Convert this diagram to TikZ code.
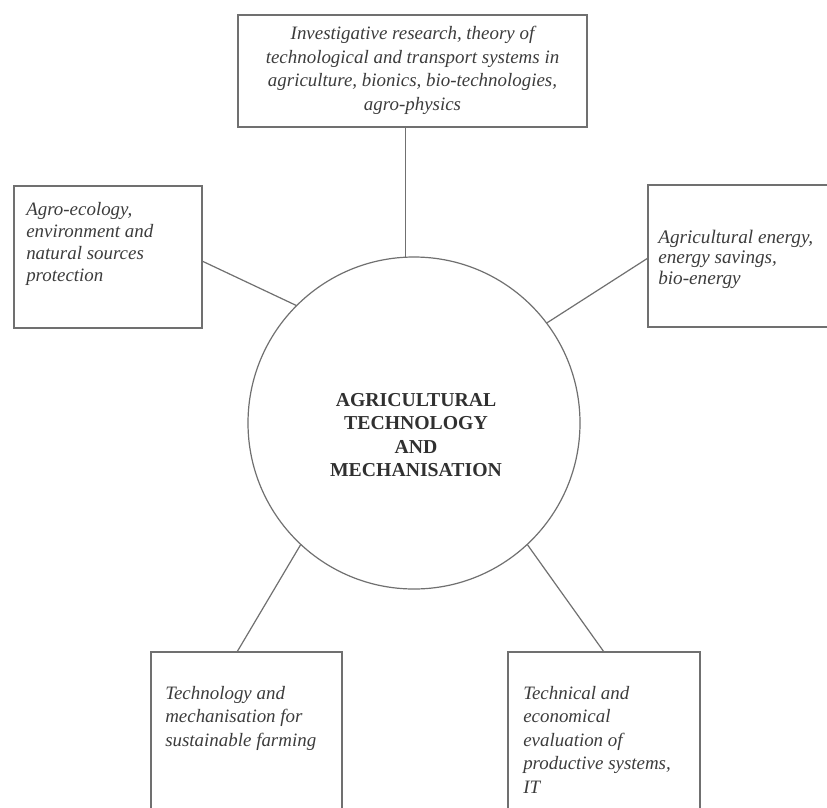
\documentclass[tikz,border=0pt]{standalone}
\usepackage{fontspec}
\setmainfont{Liberation Serif}
\usetikzlibrary{calc}
\definecolor{linegray}{HTML}{707070}
\definecolor{txtgray}{HTML}{3C3C3C}
\begin{document}
\begin{tikzpicture}[x=0.75pt,y=-0.75pt,
  box/.style={draw=linegray, line width=0.9pt, inner sep=0pt, outer sep=0pt},
  txt/.style={text=txtgray, font=\fontsize{14.2}{17.6}\selectfont\itshape, inner sep=0pt, align=left},
  link/.style={draw=linegray, line width=0.9pt}]
\useasboundingbox (0,0) rectangle (827,807);
\clip (0,0) rectangle (827,807);
\fill[white] (0,0) rectangle (827,807);

% central circle
\node[circle, draw=linegray, line width=0.9pt, minimum size=249pt, inner sep=0pt, outer sep=0pt] (c) at (414,423) {};
\node[text=txtgray!80!black, font=\fontsize{14.8}{17.5}\selectfont\bfseries, align=center, inner sep=0pt] (ctext) at (416,435)
  {AGRICULTURAL\\TECHNOLOGY\\AND\\MECHANISATION};

% boxes
\node[box, minimum width=261.75pt, minimum height=84pt] (top) at (412.5,71) {};
\node[txt, align=center, anchor=north] (toptext) at (412.5,26)
  {Investigative research, theory of\\technological and transport systems in\\agriculture, bionics, bio-technologies,\\agro-physics};

\node[box, minimum width=141pt, minimum height=106.5pt] (lb) at (108,257) {};
\node[txt, anchor=north west, font=\fontsize{14.2}{16.5}\selectfont\itshape] (lbtext) at (26,202)
  {Agro-ecology,\\environment and\\natural sources\\protection};

\node[box, minimum width=144pt, minimum height=106.5pt] (rb) at (744,256) {};
\node[txt, anchor=north west, font=\fontsize{14.4}{15.2}\selectfont\itshape] (rbtext) at (658,230)
  {Agricultural energy,\\energy savings,\\bio-energy};

\node[box, minimum width=143.25pt, minimum height=135pt] (bl) at (246.5,742) {};
\node[txt, anchor=north west] (bltext) at (165,686)
  {Technology and\\mechanisation for\\sustainable farming};

\node[box, minimum width=144pt, minimum height=135pt] (br) at (604,742) {};
\node[txt, anchor=north west] (brtext) at (523,686)
  {Technical and\\economical\\evaluation of\\productive systems,\\IT};

% connectors
\draw[link] (c.93.5) -- (c.93.5 |- top.south);
\draw[link] (c.135.7) -- ($(lb.east)+(0,4)$);
\draw[link] (c.37.1) -- ($(rb.west)+(0,2)$);
\draw[link] (c.227.6) -- ($(bl.north)+(-9.5,0)$);
\draw[link] (c.313.7) -- (br.north);
\end{tikzpicture}
\end{document}
